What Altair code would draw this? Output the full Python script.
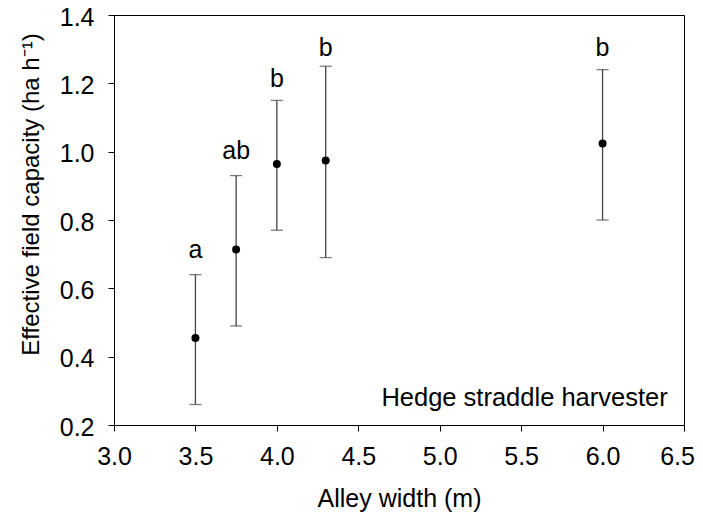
import altair as alt
import pandas as pd

# Data
alley_width = [3.5, 3.75, 4.0, 4.3, 6.0]
capacity = [0.455, 0.714, 0.964, 0.974, 1.024]
err_low = [0.26, 0.49, 0.77, 0.69, 0.80]
err_high = [0.64, 0.93, 1.15, 1.25, 1.24]
letters = ["a", "ab", "b", "b", "b"]
letter_y = [0.69, 0.98, 1.19, 1.28, 1.28]

x_ticks = [3.0, 3.5, 4.0, 4.5, 5.0, 5.5, 6.0, 6.5]
y_ticks = [0.2, 0.4, 0.6, 0.8, 1.0, 1.2, 1.4]

annot_text = ["Hedge straddle harvester"]
annot_x = [6.40]
annot_y = [0.256]

df = pd.DataFrame({
    "x": alley_width, "y": capacity, "lo": err_low, "hi": err_high,
    "letter": letters, "ly": letter_y,
})
annot = pd.DataFrame({"x": annot_x, "y": annot_y, "t": annot_text})

FONT = "Liberation Sans"

xs = alt.Scale(domain=[3.0, 6.5], nice=False, zero=False)
ys = alt.Scale(domain=[0.2, 1.4], nice=False, zero=False)

xax = alt.Axis(values=x_ticks, format=".1f", title="Alley width (m)", grid=False,
               tickSize=6, labelPadding=13, titlePadding=17, labelFlush=False,
               labelOffset={"condition": {"test": "datum.value >= 6.5", "value": -7},
                            "value": 0})
yax = alt.Axis(values=y_ticks, format=".1f", title="Effective field capacity (ha h⁻¹)",
               grid=False, tickSize=6, labelPadding=14, titlePadding=16, labelFlush=False,
               labelOffset=2, titleY=179, titleFontSize=24)

base = alt.Chart(df)

rules = base.mark_rule(color="#444444", strokeWidth=1.3).encode(
    x=alt.X("x:Q", scale=xs, axis=xax),
    y=alt.Y("lo:Q", scale=ys, axis=yax),
    y2="hi:Q",
)
cap_lo = base.mark_tick(color="#444444", orient="horizontal", size=12, thickness=1.3).encode(
    x=alt.X("x:Q", scale=xs), y=alt.Y("lo:Q", scale=ys))
cap_hi = base.mark_tick(color="#444444", orient="horizontal", size=12, thickness=1.3).encode(
    x=alt.X("x:Q", scale=xs), y=alt.Y("hi:Q", scale=ys))
points = base.mark_circle(color="black", size=64, opacity=1).encode(
    x=alt.X("x:Q", scale=xs), y=alt.Y("y:Q", scale=ys))
letters_t = base.mark_text(font=FONT, fontSize=25, color="black", baseline="alphabetic",
                           align="center").encode(
    x=alt.X("x:Q", scale=xs), y=alt.Y("ly:Q", scale=ys), text="letter:N")
annot_t = alt.Chart(annot).mark_text(font=FONT, fontSize=25.5, color="black",
                                     baseline="alphabetic", align="right").encode(
    x=alt.X("x:Q", scale=xs), y=alt.Y("y:Q", scale=ys), text="t:N")

chart = alt.layer(rules, cap_lo, cap_hi, points, letters_t, annot_t).properties(
    width=570, height=410,
    autosize=alt.AutoSizeParams(type="none"),
    padding={"left": 106, "top": 7, "right": 11, "bottom": 90},
).configure_view(
    stroke="black", strokeWidth=1
).configure_axis(
    labelFont=FONT, titleFont=FONT, labelFontSize=25, titleFontSize=25,
    labelColor="black", titleColor="black", domainColor="black", tickColor="black",
    titleFontWeight="normal", domainWidth=1, tickWidth=1,
)

chart.save("out.html", embed_options={"renderer": "svg", "actions": False})
